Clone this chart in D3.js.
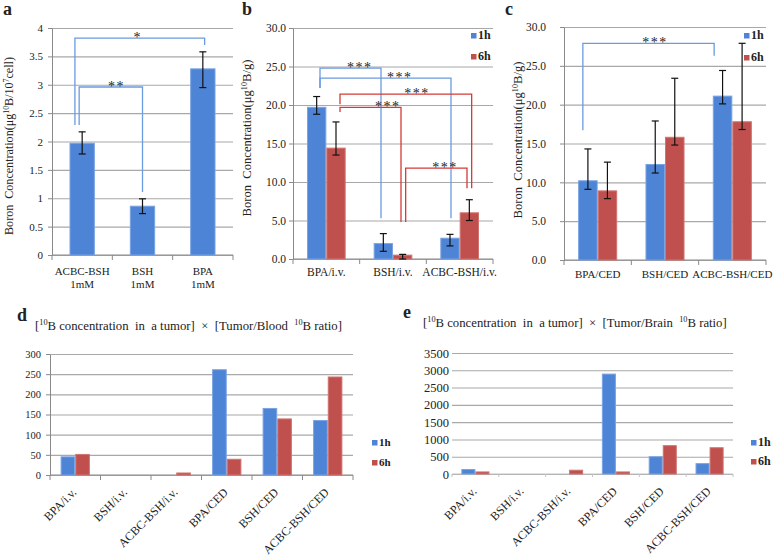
<!DOCTYPE html>
<html><head><meta charset="utf-8">
<script src="https://cdn.jsdelivr.net/npm/d3@7"></script>
<style>
body{margin:0;background:#fff}
svg{display:block}
text{font-family:"Liberation Serif","Times New Roman",serif;fill:#222}
</style>
</head><body>
<svg id="chart" width="778" height="556"></svg>
<script>
// ---------- DATA ----------
const seriesNames = ["1h", "6h"];

// panel a
const aCategories = ["ACBC-BSH", "BSH", "BPA"];
const aSubLabel = "1mM";
const aValues = [1.97, 0.86, 3.28];
const aErrLow = [1.78, 0.73, 2.95];
const aErrHigh = [2.17, 0.99, 3.58];
const aTicks = [0, 0.5, 1, 1.5, 2, 2.5, 3, 3.5, 4];

// panel b
const bCategories = ["BPA/i.v.", "BSH/i.v.", "ACBC-BSH/i.v."];
const b1h = [19.7, 2.0, 2.7];
const b6h = [14.4, 0.5, 6.0];
const b1hLow = [18.8, 1.0, 1.7], b1hHigh = [21.1, 3.3, 3.2];
const b6hLow = [13.5, 0.0, 5.0], b6hHigh = [17.8, 0.6, 7.7];

// panel c
const cCategories = ["BPA/CED", "BSH/CED", "ACBC-BSH/CED"];
const c1h = [10.2, 12.3, 21.1];
const c6h = [8.9, 15.8, 17.8];
const c1hLow = [9.1, 11.2, 20.1], c1hHigh = [14.3, 17.9, 24.4];
const c6hLow = [7.9, 14.8, 16.8], c6hHigh = [12.6, 23.4, 27.9];
const bcTicks = [0, 5, 10, 15, 20, 25, 30];

// panels d, e
const deCategories = ["BPA/i.v.", "BSH/i.v.", "ACBC-BSH/i.v.", "BPA/CED", "BSH/CED", "ACBC-BSH/CED"];
const d1h = [45, 0, 0, 261, 165, 135];
const d6h = [51, 0, 5, 39, 139, 243];
const dTicks = [0, 50, 100, 150, 200, 250, 300];
const e1h = [130, 0, 0, 2890, 500, 300];
const e6h = [60, 0, 110, 60, 820, 760];
const eTicks = [0, 500, 1000, 1500, 2000, 2500, 3000, 3500];

// significance brackets: x in category units (index + fraction of step), y in data units
const aBrackets = [
  {x1: 0.38, x2: 2.53, yL: 2.29, yTop: 3.82, yR: 3.70, lx: 1.42, label: "*"},
  {x1: 0.45, x2: 1.50, yL: 2.29, yTop: 2.96, yR: 1.11, lx: 1.07, label: "**"}
];
const bBrackets = [
  {x1: 0.405, x2: 1.32, yL: 22.2, yTop: 24.8, yR: 5.3, lx: 1.00, label: "***", s: 0},
  {x1: 0.405, x2: 2.37, yL: 22.2, yTop: 23.5, yR: 5.3, lx: 1.60, label: "***", s: 0},
  {x1: 0.705, x2: 2.68, yL: 20.1, yTop: 21.4, yR: 9.2, lx: 1.86, label: "***", s: 1},
  {x1: 0.705, x2: 1.62, yL: 19.1, yTop: 19.7, yR: 4.8, lx: 1.42, label: "***", s: 1},
  {x1: 1.69, x2: 2.61, yL: 4.8, yTop: 11.8, yR: 9.2, lx: 2.28, label: "***", s: 1}
];
const cBrackets = [
  {x1: 0.28, x2: 2.23, yL: 16.7, yTop: 27.9, yR: 26.3, lx: 1.35, label: "***", s: 0}
];

// ---------- STYLE ----------
const COLORS = ["#4d84d6", "#c0504d"];
const EDGES = ["#7aa3e3", "#d07572"];
const BRACKET = ["#6b9be0", "#d63a36"];
const SERIF = "'Liberation Serif','Times New Roman',serif";
const SANS = "'Liberation Sans',Arial,sans-serif";

const svg = d3.select("#chart");

function drawPanel(o) {
  const g = svg.append("g");
  const y = d3.scaleLinear().domain([0, o.yMax]).range([o.bottom, o.top]);
  const x0 = d3.scaleBand().domain(o.cats).range([o.left, o.right])
    .paddingInner(o.pad).paddingOuter(o.pad / 2);
  const x1 = d3.scaleBand().domain(o.series.map(s => s.name)).range([0, x0.bandwidth()]);

  g.append("g").attr("transform", `translate(${o.left},0)`)
    .call(d3.axisLeft(y).tickValues(o.ticks).tickSize(-(o.right - o.left)).tickFormat(""))
    .call(s => { s.select(".domain").remove(); s.selectAll("line").attr("stroke", o.grid).attr("stroke-width", 1.1); });

  const ya = g.append("g").attr("transform", `translate(${o.left},0)`)
    .call(d3.axisLeft(y).tickValues(o.ticks).tickSize(o.yTick).tickSizeOuter(0)
      .tickPadding(o.tickPad).tickFormat(o.fmt));
  ya.select(".domain").attr("stroke", o.yAxisLine ? "#8a8a8a" : "none");
  ya.selectAll(".tick line").attr("stroke", "#8a8a8a");
  ya.selectAll(".tick text").attr("font-family", o.tickFont).attr("font-size", o.tickSize).attr("fill", "#333");

  const step = x0.step();
  g.append("line").attr("x1", o.left).attr("x2", o.right).attr("y1", y(0)).attr("y2", y(0))
    .attr("stroke", o.xAxisColor || "#8a8a8a").attr("stroke-width", 1.1);
  g.selectAll(".xt").data(d3.range(o.cats.length + 1)).join("line")
    .attr("x1", i => o.left + i * step).attr("x2", i => o.left + i * step)
    .attr("y1", y(0)).attr("y2", y(0) + o.xTick)
    .attr("stroke", o.xAxisColor || "#8a8a8a");

  o.series.forEach((s, si) => {
    const rows = o.cats.map((c, k) => ({c, v: s.vals[k], lo: s.low ? s.low[k] : null, hi: s.high ? s.high[k] : null}));
    g.append("g").selectAll("rect").data(rows.filter(d => d.v > 0)).join("rect")
      .attr("x", d => x0(d.c) + x1(s.name) + 0.5)
      .attr("y", d => y(d.v))
      .attr("width", x1.bandwidth() - 1)
      .attr("height", d => y(0) - y(d.v))
      .attr("fill", s.color).attr("stroke", s.edge).attr("stroke-width", 1);
    if (s.low) {
      const eg = g.append("g").attr("stroke", "#111").attr("stroke-width", 1.2);
      rows.forEach(d => {
        const cx = x0(d.c) + x1(s.name) + x1.bandwidth() / 2;
        eg.append("line").attr("x1", cx).attr("x2", cx).attr("y1", y(d.lo)).attr("y2", y(d.hi));
        eg.append("line").attr("x1", cx - 3.5).attr("x2", cx + 3.5).attr("y1", y(d.lo)).attr("y2", y(d.lo));
        eg.append("line").attr("x1", cx - 3.5).attr("x2", cx + 3.5).attr("y1", y(d.hi)).attr("y2", y(d.hi));
      });
    }
  });

  if (o.rotate) {
    g.selectAll(".cl").data(o.cats).join("text")
      .attr("transform", c => `translate(${x0(c) + x0.bandwidth() / 2 + 2},${y(0) + 18}) rotate(-45)`)
      .attr("text-anchor", "end").attr("font-size", 12).attr("font-family", SERIF)
      .text(c => c);
  } else {
    g.selectAll(".cl").data(o.cats).join("text")
      .attr("x", c => x0(c) + x0.bandwidth() / 2).attr("y", o.labelY)
      .attr("text-anchor", "middle").attr("font-size", o.catSize).attr("font-family", SERIF)
      .text(c => c);
    if (o.subLabel) {
      g.selectAll(".sl").data(o.cats).join("text")
        .attr("x", c => x0(c) + x0.bandwidth() / 2).attr("y", o.labelY + 13)
        .attr("text-anchor", "middle").attr("font-size", o.catSize).attr("font-family", SERIF)
        .text(o.subLabel);
    }
  }

  (o.brackets || []).forEach(b => {
    const X = v => o.left + v * step;
    const col = o.bracketColor || BRACKET[b.s];
    g.append("path")
      .attr("d", `M${X(b.x1)},${y(b.yL)}V${y(b.yTop)}H${X(b.x2)}V${y(b.yR)}`)
      .attr("fill", "none").attr("stroke", col).attr("stroke-width", 1.3);
    g.append("text").attr("x", X(b.lx)).attr("y", y(b.yTop) + 4)
      .attr("text-anchor", "middle").attr("font-size", 14).attr("font-family", SERIF)
      .attr("letter-spacing", 1.5).attr("fill", "#444").text(b.label);
  });

  if (o.legend) {
    o.series.forEach((s, si) => {
      const ly = o.legend.y + si * o.legend.dy;
      g.append("rect").attr("x", o.legend.x).attr("y", ly - 6).attr("width", 5.5).attr("height", 5.5).attr("fill", s.color);
      g.append("text").attr("x", o.legend.x + 7).attr("y", ly).attr("font-size", o.legend.size)
        .attr("font-family", o.legend.font).attr("font-weight", "bold").attr("fill", "#333").text(s.name);
    });
  }
  return {x0, y};
}

function addParts(t, parts, size) {
  let up = false;
  parts.forEach(p => {
    const sup = p.startsWith("^");
    const txt = sup ? p.slice(1) : p;
    const ts = t.append("tspan").text(txt);
    if (sup && !up) { ts.attr("dy", -size * 0.38).attr("font-size", size * 0.65); up = true; }
    else if (sup) { ts.attr("font-size", size * 0.65); }
    else if (up) { ts.attr("dy", size * 0.38); up = false; }
  });
}
// write rich text, then rescale font size so the total length equals len
function fitParts(t, parts, size, len) {
  t.attr("font-size", size);
  addParts(t, parts, size);
  const w = t.node().getComputedTextLength();
  if (w > 0) {
    const s2 = size * len / w;
    t.selectAll("tspan").remove();
    t.attr("font-size", s2);
    addParts(t, parts, s2);
  }
}
function yTitle(x, yc, parts, size, len) {
  const t = svg.append("text").attr("transform", `translate(${x},${yc}) rotate(-90)`)
    .attr("text-anchor", "middle").attr("font-family", SERIF)
    .attr("dy", "0.35em").style("white-space", "pre");
  fitParts(t, parts, size, len);
}
function title(x, y, parts, size, len) {
  const t = svg.append("text").attr("x", x).attr("y", y).attr("font-family", SERIF)
    .style("white-space", "pre");
  fitParts(t, parts, size, len);
}
function panelLabel(x, y, s) {
  svg.append("text").attr("x", x).attr("y", y).attr("font-family", SANS).attr("font-weight", "bold")
    .attr("font-size", 18).attr("fill", "#111").text(s);
}

const fmtA = d => String(d);
const fmt1 = d3.format(".1f");
const fmtInt = d3.format("d");

// ---------- PANEL a ----------
drawPanel({
  left: 52, right: 233, top: 28, bottom: 255, yMax: 4, ticks: aTicks, fmt: fmtA,
  cats: aCategories, pad: 0.58, tickPad: 5, yTick: 4, xTick: 5, tickFont: SERIF, tickSize: 11,
  yAxisLine: true, grid: "#a8a8a8", labelY: 275, subLabel: aSubLabel, catSize: 11,
  series: [{name: "1h", vals: aValues, low: aErrLow, high: aErrHigh, color: COLORS[0], edge: EDGES[0]}],
  brackets: aBrackets, bracketColor: BRACKET[0]
});
yTitle(9, 146, ["Boron  Concentration(μg", "^10", "B/10", "^7", "cell)"], 13, 178);
panelLabel(3, 15, "a");

// ---------- PANEL b ----------
drawPanel({
  left: 293, right: 493, top: 28, bottom: 259, yMax: 30, ticks: bcTicks, fmt: fmt1,
  cats: bCategories, pad: 0.42, tickPad: 3, yTick: 4, xTick: 5, tickFont: SERIF, tickSize: 11.5,
  yAxisLine: true, grid: "#a8a8a8", labelY: 276, catSize: 11.5,
  series: [
    {name: "1h", vals: b1h, low: b1hLow, high: b1hHigh, color: COLORS[0], edge: EDGES[0]},
    {name: "6h", vals: b6h, low: b6hLow, high: b6hHigh, color: COLORS[1], edge: EDGES[1]}
  ],
  brackets: bBrackets,
  legend: {x: 471, y: 39, dy: 21, size: 12, font: SERIF}
});
yTitle(247, 138, ["Boron  Concentration(μg", "^10", "B/g)"], 13, 157);
panelLabel(242, 15, "b");

// ---------- PANEL c ----------
drawPanel({
  left: 564, right: 766, top: 27, bottom: 260, yMax: 30, ticks: bcTicks, fmt: fmt1,
  cats: cCategories, pad: 0.42, tickPad: 14, yTick: 4, xTick: 5, tickFont: SERIF, tickSize: 11.5,
  yAxisLine: true, grid: "#a8a8a8", labelY: 278, catSize: 11,
  series: [
    {name: "1h", vals: c1h, low: c1hLow, high: c1hHigh, color: COLORS[0], edge: EDGES[0]},
    {name: "6h", vals: c6h, low: c6hLow, high: c6hHigh, color: COLORS[1], edge: EDGES[1]}
  ],
  brackets: cBrackets,
  legend: {x: 744, y: 39, dy: 22, size: 12, font: SERIF}
});
yTitle(518, 140, ["Boron  Concentration(μg", "^10", "B/g)"], 13, 157);
panelLabel(505, 15, "c");

// ---------- PANEL d ----------
drawPanel({
  left: 50, right: 353, top: 354, bottom: 475, yMax: 300, ticks: dTicks, fmt: fmtInt,
  cats: deCategories, pad: 0.42, tickPad: 5, yTick: 4, xTick: 5, tickFont: SANS, tickSize: 10.5,
  yAxisLine: true, grid: "#a8a8a8", rotate: true,
  series: [
    {name: "1h", vals: d1h, color: COLORS[0], edge: EDGES[0]},
    {name: "6h", vals: d6h, color: COLORS[1], edge: EDGES[1]}
  ],
  legend: {x: 372, y: 446, dy: 20, size: 11, font: SANS}
});
panelLabel(17, 321, "d");
title(35, 330, ["[", "^10", "B concentration  in  a tumor]  ×  [Tumor/Blood  ", "^10", "B ratio]"], 14, 307);

// ---------- PANEL e ----------
drawPanel({
  left: 452, right: 733, top: 353, bottom: 474, yMax: 3500, ticks: eTicks, fmt: fmtInt,
  cats: deCategories, pad: 0.40, tickPad: 3, yTick: 0, xTick: 3, tickFont: SERIF, tickSize: 12.5,
  yAxisLine: false, grid: "#a8a8a8", xAxisColor: "#c4c4c4", rotate: true,
  series: [
    {name: "1h", vals: e1h, color: COLORS[0], edge: EDGES[0]},
    {name: "6h", vals: e6h, color: COLORS[1], edge: EDGES[1]}
  ],
  legend: {x: 751, y: 446, dy: 19, size: 12, font: SERIF}
});
panelLabel(403, 318, "e");
title(423, 327, ["[", "^10", "B concentration  in  a tumor]  ×  [Tumor/Brain  ", "^10", "B ratio]"], 14, 304);
</script>
</body></html>
